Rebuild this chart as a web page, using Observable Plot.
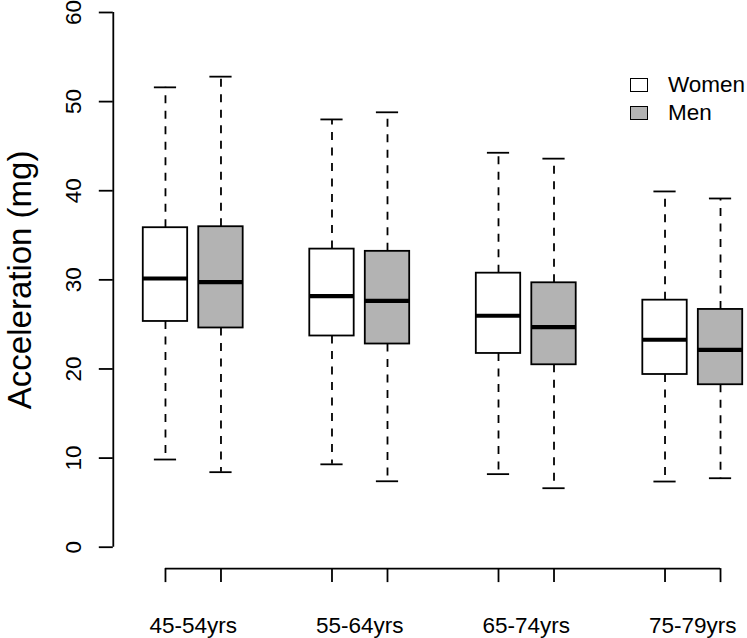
<!DOCTYPE html>
<html><head><meta charset="utf-8">
<script src="https://cdn.jsdelivr.net/npm/d3@7"></script>
<script src="https://cdn.jsdelivr.net/npm/@observablehq/plot@0.6"></script>
<style>
body{margin:0;background:#fff;}
#wrap{position:relative;width:747px;height:638px;font-family:"Liberation Sans",Arial,Helvetica,sans-serif;}
#wrap svg{position:absolute;left:0;top:0;}
.legend{position:absolute;left:630px;top:71px;font-size:22.5px;color:#000;}
.legend .row{display:flex;align-items:center;height:28px;}
.legend .sw{display:inline-block;box-sizing:border-box;width:18px;height:14px;border:1.3px solid #000;margin-right:20px;}
</style></head>
<body><div id="wrap"></div>
<script>
const groups = ["45-54yrs", "55-64yrs", "65-74yrs", "75-79yrs"];
const sexes = ["Women", "Men"];
const sexFill = ["#ffffff", "#b3b3b3"];

// Five-number summaries (mg)
const womenLow    = [9.84, 9.3, 8.2, 7.37];
const womenQ1     = [25.33, 23.7, 21.74, 19.38];
const womenMedian = [30.15, 28.17, 25.97, 23.28];
const womenQ3     = [35.85, 33.45, 30.75, 27.72];
const womenHigh   = [51.6, 48.0, 44.26, 39.92];

const menLow    = [8.42, 7.4, 6.62, 7.74];
const menQ1     = [24.6, 22.8, 20.47, 18.23];
const menMedian = [29.74, 27.65, 24.69, 22.15];
const menQ3     = [35.96, 33.2, 29.67, 26.68];
const menHigh   = [52.8, 48.8, 43.6, 39.13];

const yTicks = [0, 10, 20, 30, 40, 50, 60];

const stats = [
  {lo: womenLow, q1: womenQ1, med: womenMedian, q3: womenQ3, hi: womenHigh},
  {lo: menLow, q1: menQ1, med: menMedian, q3: menQ3, hi: menHigh}
];
const rows = [];
groups.forEach((g, i) => {
  sexes.forEach((s, j) => {
    const st = stats[j];
    rows.push({group: g, sex: s, pos: i * 3 + j + 1,
      lo: st.lo[i], q1: st.q1[i], med: st.med[i], q3: st.q3[i], hi: st.hi[i]});
  });
});
const positions = rows.map(d => d.pos);
const centers = groups.map((g, i) => i * 3 + 1.5);

// R-style plot region: 4% extension of xlim c(0.5, 11.5) and ylim c(0, 60)
const xDomain = [0.06, 11.94];
const yDomain = [-2.4, 62.4];
const HW = 0.4, SW = 0.2;
const lw = 1.8;
const font = '"Liberation Sans", Arial, Helvetica, sans-serif';

const plot = Plot.plot({
  width: 747, height: 638,
  marginLeft: 112.8, marginRight: -25.2, marginTop: -9.4, marginBottom: 69.9,
  x: {domain: xDomain},
  y: {domain: yDomain},
  style: {fontFamily: font, background: "transparent", color: "#000"},
  marks: [
    Plot.ruleX(rows, {x: "pos", y1: "q3", y2: "hi", stroke: "#000", strokeWidth: lw, strokeDasharray: "8,7.5"}),
    Plot.ruleX(rows, {x: "pos", y1: "q1", y2: "lo", stroke: "#000", strokeWidth: lw, strokeDasharray: "8,7.5"}),
    Plot.ruleY(rows, {y: "hi", x1: d => d.pos - SW, x2: d => d.pos + SW, stroke: "#000", strokeWidth: lw}),
    Plot.ruleY(rows, {y: "lo", x1: d => d.pos - SW, x2: d => d.pos + SW, stroke: "#000", strokeWidth: lw}),
    Plot.rect(rows.filter(d => d.sex === sexes[0]), {x1: d => d.pos - HW, x2: d => d.pos + HW, y1: "q1", y2: "q3", fill: sexFill[0], stroke: "#000", strokeWidth: lw}),
    Plot.rect(rows.filter(d => d.sex === sexes[1]), {x1: d => d.pos - HW, x2: d => d.pos + HW, y1: "q1", y2: "q3", fill: sexFill[1], stroke: "#000", strokeWidth: lw}),
    Plot.ruleY(rows, {y: "med", x1: d => d.pos - HW, x2: d => d.pos + HW, stroke: "#000", strokeWidth: 4.2}),
    // y axis
    Plot.ruleX([xDomain[0]], {y1: yTicks[0], y2: yTicks[yTicks.length - 1], stroke: "#000", strokeWidth: lw}),
    Plot.axisY({ticks: yTicks, anchor: "left", tickSize: 14, tickFormat: () => "", label: null, strokeWidth: lw}),
    Plot.axisY({ticks: yTicks, anchor: "left", tickSize: 0, tickPadding: 40, rotate: -90, textAnchor: "middle",
      fontSize: 22.5, label: null, tickFormat: d => String(d)}),
    // x axis
    Plot.ruleY([yDomain[0]], {x1: positions[0], x2: positions[positions.length - 1], stroke: "#000", strokeWidth: lw}),
    Plot.axisX({ticks: positions, anchor: "bottom", tickSize: 14, tickFormat: () => "", label: null, strokeWidth: lw}),
    Plot.axisX({ticks: centers, anchor: "bottom", tickSize: 0, tickPadding: 48.6, fontSize: 22.5, label: null,
      tickFormat: (d, i) => groups[i]}),
    Plot.text(["Acceleration (mg)"], {frameAnchor: "left", rotate: -90, textAnchor: "middle", dx: -93, fontSize: 33, fill: "#000"})
  ]
});

const wrap = document.getElementById("wrap");
wrap.appendChild(plot);
const legend = document.createElement("div");
legend.className = "legend";
sexes.forEach((s, j) => {
  const row = document.createElement("div");
  row.className = "row";
  const sw = document.createElement("span");
  sw.className = "sw";
  sw.style.background = sexFill[j];
  row.appendChild(sw);
  row.appendChild(document.createTextNode(s));
  legend.appendChild(row);
});
wrap.appendChild(legend);
</script>
</body></html>
